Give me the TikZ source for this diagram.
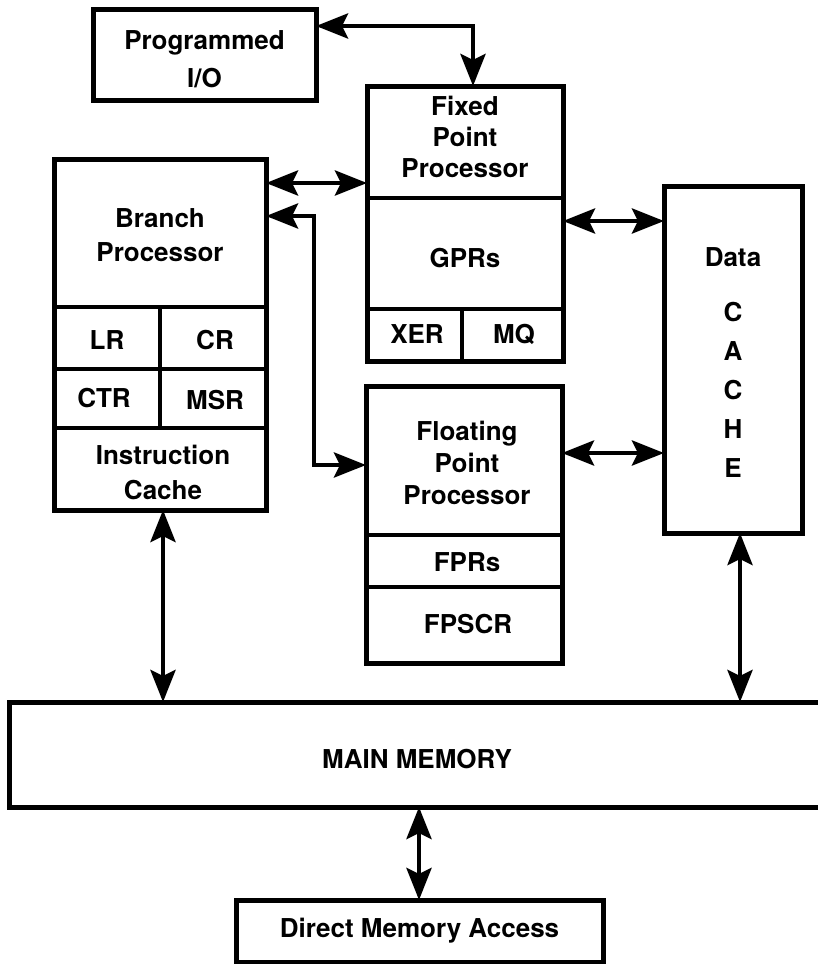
\documentclass[tikz,border=0pt]{standalone}
\usepackage{fontspec}
\setmainfont{TeX Gyre Heros}
\usetikzlibrary{arrows.meta,calc}
\tikzset{
  box/.style={draw, line width=5pt, rectangle, inner sep=0pt, outer sep=0pt},
  txt/.style={font=\fontsize{26}{31}\selectfont\bfseries, align=center, inner sep=0pt},
  divider/.style={line width=4.5pt},
  conn/.style={line width=4.5pt, {Stealth[length=32pt 0,width=25pt 0,inset=6pt 0]}-{Stealth[length=32pt 0,width=25pt 0,inset=6pt 0]}},
}
\begin{document}
\begin{tikzpicture}[x=1pt,y=-1pt]
\useasboundingbox (0,0) rectangle (817,964);

% Programmed I/O
\node[box, minimum width=223pt, minimum height=91pt] (pio) at (204.5,54.5) {};
\node[txt, font=\fontsize{26}{38}\selectfont\bfseries] (piot) at (204.5,59) {Programmed\\I/O};

% Fixed point processor
\node[box, minimum width=196pt, minimum height=275pt] (fx) at (465,223.5) {};
\draw[divider] (fx.west |- 0,198) -- (fx.east |- 0,198);
\draw[divider] (fx.west |- 0,309) -- (fx.east |- 0,309);
\draw[divider] (462,309) -- (fx.south -| 462,0);
\node[txt] (fxt) at (465,137) {Fixed\\Point\\Processor};
\node[txt] (gpr) at (465,258) {GPRs};
\node[txt] (xer) at (417,334) {XER};
\node[txt] (mq) at (514,334) {MQ};

% Branch processor
\node[box, minimum width=212pt, minimum height=351pt] (br) at (160,334.5) {};
\draw[divider] (br.west |- 0,307) -- (br.east |- 0,307);
\draw[divider] (br.west |- 0,369) -- (br.east |- 0,369);
\draw[divider] (br.west |- 0,428) -- (br.east |- 0,428);
\draw[divider] (160,307) -- (160,428);
\node[txt, font=\fontsize{26}{34}\selectfont\bfseries] (brt) at (160,235) {Branch\\Processor};
\node[txt] (lr) at (107,340) {LR};
\node[txt] (cr) at (215,340) {CR};
\node[txt] (ctr) at (104,398) {CTR};
\node[txt] (msr) at (215,400) {MSR};
\node[txt, font=\fontsize{26}{35}\selectfont\bfseries] (ic) at (163,472) {Instruction\\Cache};

% Floating point processor
\node[box, minimum width=196pt, minimum height=277pt] (fp) at (464,524.5) {};
\draw[divider] (fp.west |- 0,535) -- (fp.east |- 0,535);
\draw[divider] (fp.west |- 0,587) -- (fp.east |- 0,587);
\node[txt, font=\fontsize{26}{32}\selectfont\bfseries] (fpt) at (467,463) {Floating\\Point\\Processor};
\node[txt] (fpr) at (467,562) {FPRs};
\node[txt] (fpscr) at (468,624) {FPSCR};

% Data cache
\node[box, minimum width=138pt, minimum height=347pt] (dc) at (733,359.5) {};
\node[txt] (dct) at (733,257) {Data};
\node[txt, font=\fontsize{26}{39}\selectfont\bfseries] (dcl) at (733,390) {C\\A\\C\\H\\E};

% Main memory (open on the right)
\node[minimum width=811pt, minimum height=105pt, inner sep=0pt, outer sep=0pt] (mm) at (414.5,754.5) {};
\draw[line width=5pt] (mm.north east) -- (mm.north west) -- (mm.south west) -- (mm.south east);
\node[txt] (mmt) at (417,759) {MAIN MEMORY};

% Direct memory access
\node[box, minimum width=367pt, minimum height=62pt] (dma) at (419.5,931) {};
\node[txt] (dmat) at (419.5,931) {Direct Memory Access};

% Connectors
\draw[conn] (pio.east |- 0,26) -- (473,26) -- (fx.north -| 473,0);
\draw[conn] (br.east |- 0,183) -- (fx.west |- 0,183);
\draw[conn] (br.east |- 0,216) -- (314,216) -- (314,465) -- (fp.west |- 0,465);
\draw[conn] (fx.east |- 0,221) -- (dc.west |- 0,221);
\draw[conn] (fp.east |- 0,453) -- (dc.west |- 0,453);
\draw[conn] (br.south -| 163,0) -- (mm.north -| 163,0);
\draw[conn] (dc.south -| 740,0) -- (mm.north -| 740,0);
\draw[conn] (mm.south -| 419,0) -- (dma.north -| 419,0);
\end{tikzpicture}
\end{document}
